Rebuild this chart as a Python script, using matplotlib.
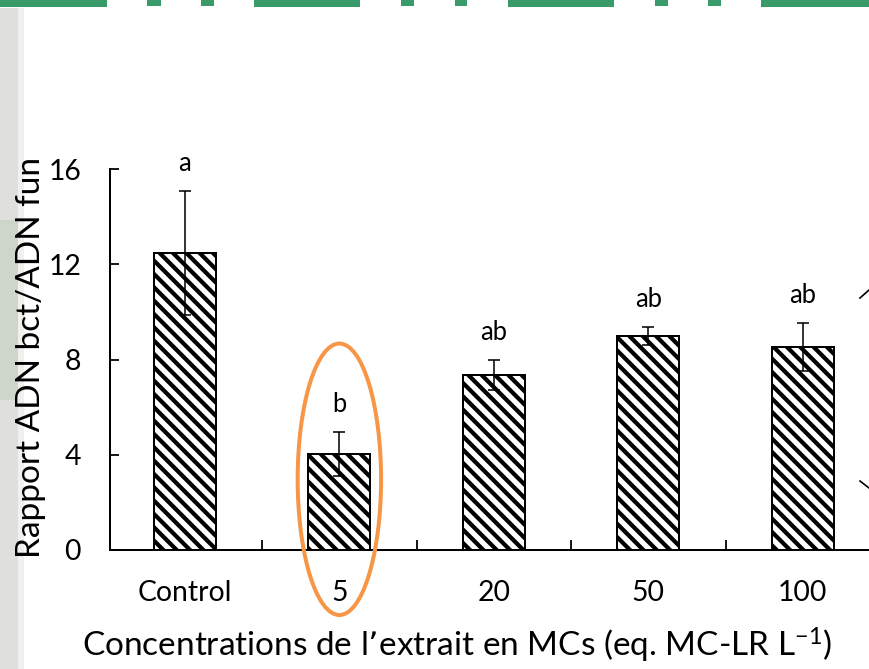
import matplotlib.pyplot as plt
from matplotlib.patches import Ellipse, Rectangle
from matplotlib.lines import Line2D
import numpy as np

plt.rcParams['font.family'] = ['Lato', 'DejaVu Sans']
plt.rcParams['mathtext.default'] = 'regular'
plt.rcParams['hatch.linewidth'] = 3.8

categories = ["Control", "5", "20", "50", "100"]
means = [12.47, 4.03, 7.35, 8.99, 8.53]
errors = [2.6, 0.93, 0.63, 0.38, 1.0]
letters = ["a", "b", "ab", "ab", "ab"]

W, H, DPI = 869, 669, 80
fig = plt.figure(figsize=(W / DPI, H / DPI), dpi=DPI)

# slide decorations (green dashed rule on top, grey strip on left), kept behind the axes
dash_x = [(0, 107), (147, 161), (201, 214), (254, 360), (401, 414),
          (455, 467), (508, 614), (655, 668), (708, 721), (761, 869)]
for x0, x1 in dash_x:
    h = 7 if x1 - x0 > 50 else 6
    fig.add_artist(Rectangle((x0 / W, 1 - h / H), (x1 - x0) / W, h / H,
                             transform=fig.transFigure, color="#3a9b6a", lw=0, zorder=-5))
fig.add_artist(Rectangle((0, 0), 18 / W, 1 - 8 / H, transform=fig.transFigure,
                         color="#dfe0de", lw=0, zorder=-5))
fig.add_artist(Rectangle((0, 1 - 400 / H), 18 / W, 180 / H, transform=fig.transFigure,
                         color="#cdd6c8", lw=0, zorder=-5))
fig.add_artist(Rectangle((18 / W, 0), 6 / W, 1 - 8 / H, transform=fig.transFigure,
                         color="#f0f0ee", lw=0, zorder=-5))
fig.add_artist(Line2D([860 / W, 869 / W], [1 - 298 / H, 1 - 290 / H],
                      transform=fig.transFigure, color="black", lw=1.5))
fig.add_artist(Line2D([860 / W, 869 / W], [1 - 481 / H, 1 - 488 / H],
                      transform=fig.transFigure, color="black", lw=1.5))

ax = fig.add_axes([110 / W, 1 - 550 / H, 770 / W, 381 / H])
ax.patch.set_alpha(0)
x = np.arange(len(categories))
ax.bar(x, means, width=0.4, color="white", edgecolor="black", linewidth=1.8,
       hatch="\\\\", zorder=2)
ax.errorbar(x, means, yerr=errors, fmt="none", ecolor="black", elinewidth=1.4,
            capsize=5.5, capthick=1.4, zorder=3)
for xi, m, e, t in zip(x, means, errors, letters):
    ax.text(xi, m + e + 1.15, t, ha="center", va="center", fontsize=23)

ax.set_xlim(-0.485, 4.5)
ax.set_ylim(0, 16)
ax.set_yticks([0, 4, 8, 12, 16])
ax.set_xticks(x)
ax.set_xticklabels(categories)
ax.set_xticks(x[:-1] + 0.5, minor=True)
ax.tick_params(axis="y", direction="in", length=8, width=1.6, labelsize=25.5, pad=26)
ax.tick_params(axis="x", which="major", length=0, labelsize=25.5, pad=27)
ax.tick_params(axis="x", which="minor", direction="in", length=9, width=1.6)
for s in ["top", "right"]:
    ax.spines[s].set_visible(False)
for s in ["left", "bottom"]:
    ax.spines[s].set_linewidth(1.8)

ax.set_ylabel("Rapport ADN bct/ADN fun", fontsize=30)
ax.yaxis.set_label_coords(-0.083, 0.505)
ax.set_xlabel("Concentrations de l\u2019extrait en MCs (eq. MC-LR L$^{-1}$)",
              fontsize=30)
ax.xaxis.set_label_coords(0.45, -0.2)

ax.add_patch(Ellipse((1, 2.97), 0.54, 11.4, fill=False, edgecolor="#f79646",
                     linewidth=3.6, clip_on=False, zorder=4))

fig.savefig("out.png", dpi=DPI)
